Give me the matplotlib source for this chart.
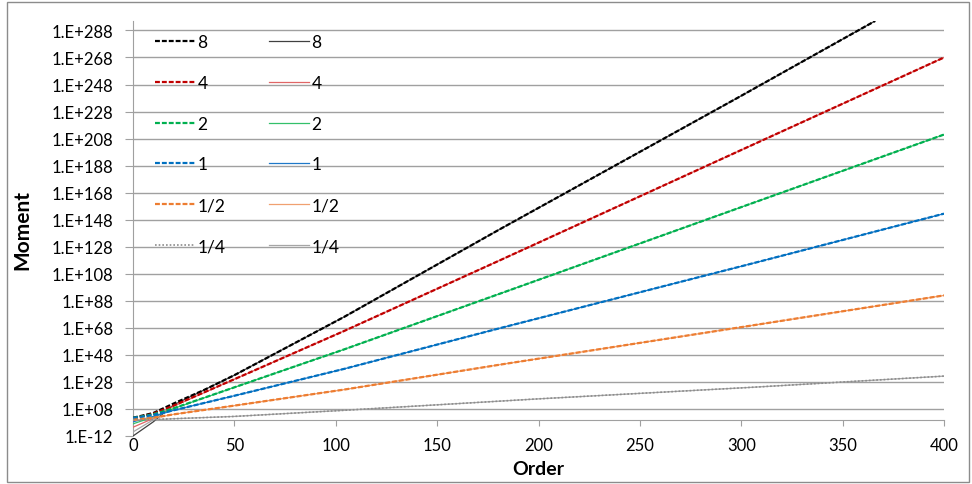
import numpy as np
import matplotlib
matplotlib.use("Agg")
import matplotlib.pyplot as plt
from matplotlib.ticker import FixedLocator, FuncFormatter, NullLocator
from matplotlib.patches import Rectangle

plt.rcParams["font.family"] = ["Lato", "DejaVu Sans"]

# --- data (order vs moment) ---
labels = ["8", "4", "2", "1", "1/2", "1/4"]

order_8 = [0, 10, 20, 35, 50, 104, 181, 298, 366]
dash_8 = [3e1, 1e5, 1e12, 1e22, 1e33, 1e76, 1e141, 1e238, 1e295]
solid_8 = [1e-12, 3e-2, 1e11, 1e22, 1e33, 1e76, 1e141, 1e238, 1e295]

order = [0, 10, 20, 50, 104, 181, 305, 400]
dash_4 = [1e1, 3e4, 3e10, 1e30, 4e65, 1e118, 1e203, 1e268]
solid_4 = [3e-6, 1e1, 1e10, 1e30, 4e65, 1e118, 1e203, 1e268]
dash_2 = [2e1, 1e4, 3e8, 1e24, 1e52, 2e93, 1e160, 1e211]
solid_2 = [1e-3, 1e2, 2e8, 1e24, 1e52, 2e93, 1e160, 1e211]
dash_1 = [2e1, 3e3, 1e7, 6e17, 4e37, 6e67, 3e115, 3e152]
solid_1 = [3e-2, 3e2, 1e7, 6e17, 4e37, 6e67, 3e115, 3e152]
dash_half = [1e0, 3e1, 1e4, 3e10, 2e22, 6e40, 5e69, 1e92]
solid_half = [3e-1, 2e1, 1e4, 3e10, 2e22, 6e40, 5e69, 1e92]

order_q = [0, 10, 20, 50, 104, 200, 305, 400]
dash_q = [1e0, 2e0, 6e0, 3e2, 1e7, 3e15, 1e24, 2e32]
solid_q = [1e-9, 1e0, 6e0, 3e2, 1e7, 3e15, 1e24, 2e32]

dash_colors = ["#000000", "#c00000", "#00b050", "#0070c0", "#ed7d31", "#8c8c8c"]
solid_colors = ["#404040", "#e06666", "#33c06a", "#1f78c8", "#f0a070", "#a6a6a6"]

xs = [order_8, order, order, order, order, order_q]
dashes = [dash_8, dash_4, dash_2, dash_1, dash_half, dash_q]
solids = [solid_8, solid_4, solid_2, solid_1, solid_half, solid_q]

fig = plt.figure(figsize=(9.72, 4.85), dpi=100)
ax = fig.add_axes([133 / 972, 48 / 485, 811 / 972, 415 / 485])

solid_h = []
for x, y, c, lab in zip(xs, solids, solid_colors, labels):
    h, = ax.plot(x, y, color=c, lw=0.9, label=lab, zorder=3)
    solid_h.append(h)

dash_h = []
for i, (x, y, c, lab) in enumerate(zip(xs, dashes, dash_colors, labels)):
    if i == 5:
        h, = ax.plot(x, y, color=c, lw=1.2, ls=(0, (1, 1.2)), label=lab, zorder=4)
    else:
        h, = ax.plot(x, y, color=c, lw=1.6, ls=(0, (2.2, 0.9)), label=lab, zorder=4)
    dash_h.append(h)

ax.set_yscale("log")
ax.set_ylim(1e-12, 1e295)
ax.set_xlim(0, 400)

ax.yaxis.set_major_locator(FixedLocator([10.0 ** e for e in range(-12, 289, 20)]))
ax.yaxis.set_minor_locator(NullLocator())
ax.yaxis.set_major_formatter(FuncFormatter(lambda v, p: "1.E%+03d" % round(np.log10(v))))
ax.set_xticks(range(0, 401, 50))

ax.grid(axis="y", color="#a0a0a0", lw=1.0, zorder=0)
ax.get_ygridlines()[0].set_visible(False)

for s in ["top", "right", "bottom"]:
    ax.spines[s].set_visible(False)
ax.spines["left"].set_color("#a0a0a0")
ax.tick_params(axis="y", length=6, color="#a0a0a0", labelsize=12, pad=8)
ax.tick_params(axis="x", length=0, labelsize=12, pad=1)

# horizontal axis crosses at 1
sec = ax.secondary_xaxis(12 / 307)
sec.set_xticks(range(0, 401, 50))
sec.tick_params(axis="x", length=4, color="#a0a0a0", labelbottom=False, direction="out")
sec.spines["bottom"].set_color("#a0a0a0")

ax.set_xlabel("Order", fontsize=14, fontweight="bold", labelpad=5)
ax.set_ylabel("Moment", fontsize=15, fontweight="bold", labelpad=14)

ax.legend(dash_h + solid_h, labels + labels, ncol=2, frameon=False,
          loc="upper left", bbox_to_anchor=(155 / 972, 1 - 35 / 485),
          bbox_transform=fig.transFigure, borderpad=0, borderaxespad=0,
          fontsize=12.5, handlelength=2.3, handletextpad=0.15,
          labelspacing=1.43, columnspacing=2.5)

fig.add_artist(Rectangle((7 / 972, 2 / 485), 962 / 972, 480 / 485,
                         transform=fig.transFigure, fill=False,
                         edgecolor="#8c8c8c", lw=1.0))

fig.savefig("out.png", dpi=100)
